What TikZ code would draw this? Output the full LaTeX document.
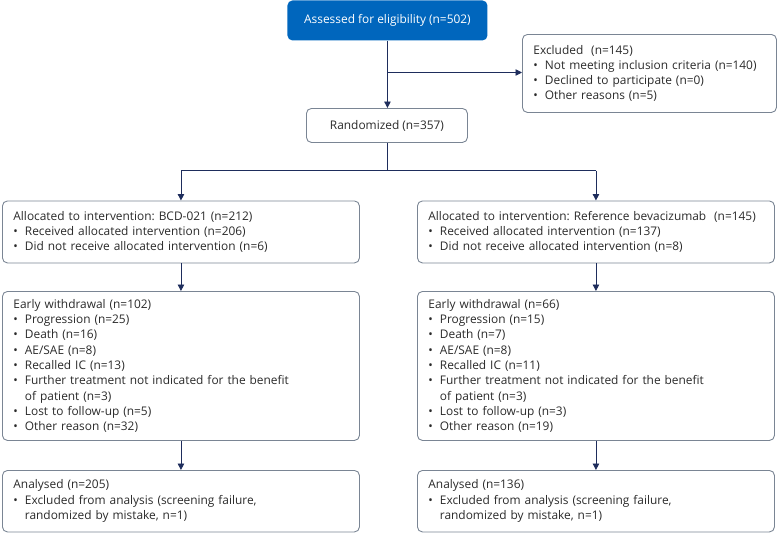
\documentclass[tikz,border=0pt]{standalone}
\usepackage{fontspec}
\setmainfont{Open Sans}
\usetikzlibrary{arrows.meta}
\definecolor{navy}{HTML}{1E2D5C}
\definecolor{boxline}{HTML}{7A8594}
\definecolor{topblue}{HTML}{0066BD}
\definecolor{txt}{HTML}{2A2A2A}
\frenchspacing
\newcommand{\bl}{\makebox[11.5pt][l]{•}}
\newcommand{\ind}{\hspace*{11.5pt}}
\tikzset{
  box/.style={draw=boxline, line width=0.9pt, rounded corners=5pt, anchor=north west,
    align=left, inner xsep=11pt, inner ysep=0pt, text=txt,
    font=\fontsize{11.9}{15.3}\selectfont},
  conn/.style={draw=navy, line width=0.9pt},
  arr/.style={conn, -{Triangle[length=6.5pt,width=6.5pt]}},
}
\begin{document}
\begin{tikzpicture}[x=1pt,y=-1pt]
\useasboundingbox (0,0) rectangle (777,533);
% top
\node[box, draw=none, fill=topblue, text=white, minimum width=200pt, minimum height=40pt, align=center] (top) at (287,0) {Assessed for eligibility (n=502)};
\node[box, text width=232pt, minimum height=78pt] (excl) at (522,34) {Excluded\ \ (n=145)\\ \bl Not meeting inclusion criteria (n=140)\\ \bl Declined to participate (n=0)\\ \bl Other reasons (n=5)};
\node[box, minimum width=161pt, minimum height=34pt, align=center] (rand) at (306,108) {Randomized (n=357)};
% allocation
\node[box, text width=335pt, minimum height=62pt] (al1) at (2,200.5) {Allocated to intervention: BCD-021 (n=212)\\ \bl Received allocated intervention (n=206)\\ \bl Did not receive allocated intervention (n=6)};
\node[box, text width=335pt, minimum height=62pt] (al2) at (417,200.5) {Allocated to intervention: Reference bevacizumab\ \ (n=145)\\ \bl Received allocated intervention (n=137)\\ \bl Did not receive allocated intervention (n=8)};
% withdrawal
\node[box, text width=335pt, minimum height=149pt] (ew1) at (2,291) {Early withdrawal (n=102)\\ \bl Progression (n=25)\\ \bl Death (n=16)\\ \bl AE/SAE (n=8)\\ \bl Recalled IC (n=13)\\ \bl Further treatment not indicated for the benefit\\ \ind of patient (n=3)\\ \bl Lost to follow-up (n=5)\\ \bl Other reason (n=32)};
\node[box, text width=335pt, minimum height=149pt] (ew2) at (417,291) {Early withdrawal (n=66)\\ \bl Progression (n=15)\\ \bl Death (n=7)\\ \bl AE/SAE (n=8)\\ \bl Recalled IC (n=11)\\ \bl Further treatment not indicated for the benefit\\ \ind of patient (n=3)\\ \bl Lost to follow-up (n=3)\\ \bl Other reason (n=19)};
% analysed
\node[box, text width=335pt, minimum height=61.5pt] (an1) at (2,470) {Analysed (n=205)\\ \bl Excluded from analysis (screening failure,\\ \ind randomized by mistake, n=1)};
\node[box, text width=335pt, minimum height=61.5pt] (an2) at (417,470) {Analysed (n=136)\\ \bl Excluded from analysis (screening failure,\\ \ind randomized by mistake, n=1)};
% connectors
\draw[arr] (top.south) -- (top.south |- rand.north);
\coordinate (br) at (top.south |- 0,72.5);
\draw[arr] (br) -- (br -| excl.west);
\coordinate (sp) at (rand.south |- 0,170.5);
\draw[conn] (rand.south) -- (sp);
\draw[conn] (al1.north |- sp) -- (al2.north |- sp);
\draw[arr] (al1.north |- sp) -- (al1.north);
\draw[arr] (al2.north |- sp) -- (al2.north);
\draw[arr] (al1.south) -- (ew1.north);
\draw[arr] (al2.south) -- (ew2.north);
\draw[arr] (ew1.south) -- (an1.north);
\draw[arr] (ew2.south) -- (an2.north);
\end{tikzpicture}
\end{document}
